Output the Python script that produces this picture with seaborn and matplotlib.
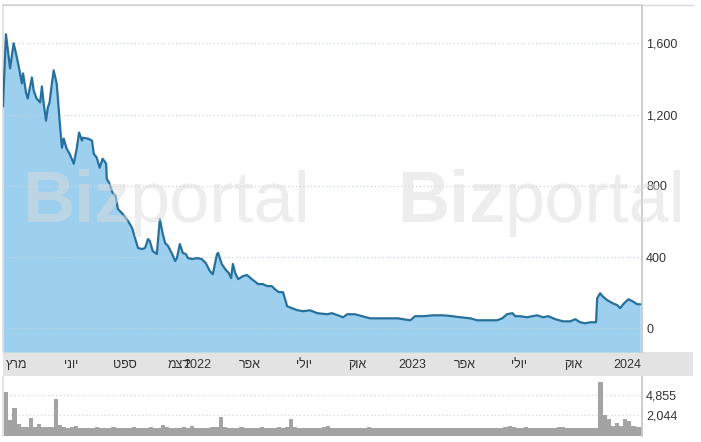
import pandas as pd
import numpy as np
import matplotlib
matplotlib.use('Agg')
import matplotlib.pyplot as plt
from matplotlib.patches import Rectangle
from matplotlib.lines import Line2D
import seaborn as sns

# price series
price_dates = ['2021-02-06', '2021-02-11', '2021-02-18', '2021-02-24', '2021-02-28', '2021-03-05',
               '2021-03-10', '2021-03-12', '2021-03-17', '2021-03-20', '2021-03-27', '2021-03-30',
               '2021-04-04', '2021-04-10', '2021-04-13', '2021-04-16', '2021-04-20', '2021-04-23',
               '2021-04-26', '2021-04-30', '2021-05-03', '2021-05-08', '2021-05-10', '2021-05-13',
               '2021-05-17', '2021-05-20', '2021-05-25', '2021-05-30', '2021-06-06', '2021-06-11',
               '2021-06-15', '2021-06-20', '2021-06-21', '2021-06-30', '2021-07-07', '2021-07-10',
               '2021-07-15', '2021-07-20', '2021-07-25', '2021-07-31', '2021-08-01', '2021-08-05',
               '2021-08-11', '2021-08-16', '2021-08-20', '2021-08-28', '2021-09-06', '2021-09-13',
               '2021-09-18', '2021-09-23', '2021-09-30', '2021-10-05', '2021-10-10', '2021-10-13',
               '2021-10-18', '2021-10-25', '2021-10-30', '2021-11-04', '2021-11-08', '2021-11-13',
               '2021-11-20', '2021-11-25', '2021-11-28', '2021-12-03', '2021-12-08', '2021-12-13',
               '2021-12-17', '2021-12-24', '2022-01-01', '2022-01-09', '2022-01-16', '2022-01-23',
               '2022-01-28', '2022-02-04', '2022-02-06', '2022-02-12', '2022-02-18', '2022-02-24',
               '2022-02-28', '2022-03-03', '2022-03-07', '2022-03-12', '2022-03-20', '2022-03-27',
               '2022-04-04', '2022-04-15', '2022-04-23', '2022-04-30', '2022-05-08', '2022-05-13',
               '2022-05-20', '2022-05-27', '2022-05-30', '2022-06-03', '2022-06-11', '2022-06-21',
               '2022-06-30', '2022-07-12', '2022-07-24', '2022-08-10', '2022-08-18', '2022-08-23',
               '2022-09-06', '2022-09-13', '2022-09-26', '2022-10-08', '2022-10-22', '2022-11-13',
               '2022-12-08', '2022-12-17', '2022-12-29', '2023-01-06', '2023-01-20', '2023-02-06',
               '2023-02-23', '2023-03-10', '2023-03-24', '2023-04-10', '2023-04-21', '2023-05-25',
               '2023-06-03', '2023-06-11', '2023-06-20', '2023-06-25', '2023-07-03', '2023-07-15',
               '2023-08-01', '2023-08-11', '2023-08-20', '2023-09-01', '2023-09-14', '2023-09-26',
               '2023-10-05', '2023-10-13', '2023-10-22', '2023-10-30', '2023-11-09', '2023-11-11',
               '2023-11-16', '2023-11-20', '2023-11-28', '2023-12-07', '2023-12-15', '2023-12-20',
               '2023-12-25', '2024-01-03', '2024-01-10', '2024-01-18', '2024-01-23']
price = [1245, 1651, 1459, 1600, 1544, 1465,
         1375, 1431, 1324, 1290, 1408, 1335,
         1290, 1268, 1358, 1262, 1166, 1239,
         1268, 1375, 1448, 1375, 1296, 1166,
         1014, 1065, 1008, 980, 924, 1008,
         1099, 1054, 1070, 1065, 1054, 980,
         958, 901, 952, 924, 839, 817,
         760, 744, 670, 642, 603, 563,
         507, 451, 445, 451, 501, 490,
         434, 417, 614, 530, 479, 462,
         417, 378, 394, 473, 423, 417,
         394, 389, 394, 389, 366, 321,
         304, 417, 423, 361, 332, 310,
         282, 361, 310, 276, 293, 299,
         276, 248, 248, 237, 237, 220,
         203, 203, 169, 124, 113, 101,
         96, 101, 85, 79, 85, 79,
         62, 79, 79, 68, 56, 56,
         56, 51, 45, 68, 68, 73,
         73, 68, 62, 56, 45, 45,
         56, 79, 85, 68, 68, 62,
         73, 62, 68, 51, 39, 39,
         51, 34, 28, 34, 34, 169,
         197, 180, 158, 141, 130, 113,
         135, 163, 152, 135, 135]

# weekly volume, starting week of 2021-02-08
volume_start = '2021-02-08'
volume = [5300, 1300, 3000, 800, 400, 350, 1600, 300, 750, 400,
          350, 300, 4300, 700, 300, 250, 300, 450, 250, 200,
          250, 200, 300, 250, 200, 250, 300, 200, 250, 200,
          250, 300, 200, 250, 200, 300, 250, 200, 650, 300,
          250, 200, 250, 300, 200, 450, 250, 200, 250, 200,
          300, 350, 1750, 400, 250, 200, 250, 300, 200, 250,
          200, 250, 300, 200, 250, 200, 300, 250, 350, 1450,
          350, 250, 200, 250, 200, 250, 200, 300, 450, 200,
          150, 200, 150, 200, 150, 200, 250, 200, 300, 150,
          200, 150, 200, 150, 200, 150, 200, 150, 200, 150,
          150, 200, 150, 200, 150, 200, 150, 200, 150, 200,
          150, 200, 150, 200, 150, 200, 150, 200, 150, 200,
          250, 300, 450, 400, 250, 200, 350, 200, 150, 200,
          150, 200, 150, 200, 300, 300, 200, 150, 200, 150,
          200, 150, 200, 200, 6700, 2000, 1500, 500, 900, 500,
          1500, 1200, 500, 300, 300]

tick_dates = ['2021-03-01', '2021-06-01', '2021-09-01', '2021-12-01', '2022-01-01', '2022-04-01',
              '2022-07-01', '2022-10-01', '2023-01-01', '2023-04-01', '2023-07-01', '2023-10-01',
              '2024-01-01']
tick_labels = ['מרץ', 'יוני', 'ספט', 'דצמ', '2022', 'אפר', 'יולי', 'אוק', '2023', 'אפר', 'יולי', 'אוק', '2024']
price_ticks = [0, 400, 800, 1200, 1600]
volume_ticks = [2044, 4855]


def visual(s):
    # matplotlib has no bidi: flip Hebrew so it reads right-to-left
    if any('\u0590' <= c <= '\u05ff' for c in s):
        return s[::-1]
    return s


sns.set_theme(style='white')
plt.rcParams['font.family'] = ['Liberation Sans', 'DejaVu Sans']

W, H = 701, 442
fig = plt.figure(figsize=(W / 100, H / 100), dpi=100)

pdates = pd.to_datetime(price_dates)
vdates = pd.date_range(volume_start, periods=len(volume), freq='7D')
xmin, xmax = pd.Timestamp('2021-02-06'), pd.Timestamp('2024-01-26')

# gray band for the date labels
fig.add_artist(Rectangle((3 / W, (H - 376) / H), 690 / W, 24 / H, transform=fig.transFigure,
                         facecolor='#e3e3e3', edgecolor='none', zorder=0))
fig.add_artist(Line2D([3 / W, 693 / W], [(H - 5) / H] * 2, transform=fig.transFigure,
                      color='#d6d6d6', lw=1))

ax = fig.add_axes([3 / W, (H - 352) / H, 639 / W, 347 / H])
ymin, ymax = -133, 1815
ax.fill_between(pdates, price, ymin, color='#9dcfee', lw=0, zorder=1)
for t in price_ticks:
    ax.axhline(t, color='#c5d3de', lw=0.9, ls=(0, (1, 2)), zorder=1.5)
sns.lineplot(x=pdates, y=price, ax=ax, color='#28709c', lw=1.6, zorder=3)

# watermark
for x0 in [22, 397]:
    fig.text(x0 / W, (H - 222) / H, 'Biz', fontsize=52, fontweight='bold', color='#dcdcdc',
             alpha=0.5, zorder=5)
    fig.text((x0 + 107) / W, (H - 222) / H, 'portal', fontsize=52, color='#dcdcdc',
             alpha=0.5, zorder=5)

ax.set_xlim(xmin, xmax)
ax.set_ylim(ymin, ymax)
ax.yaxis.tick_right()
ax.set_yticks(price_ticks)
ax.set_yticklabels([f'{t:,}' for t in price_ticks], fontsize=9, color='#333333')
ax.set_xticks(pd.to_datetime(tick_dates))
ax.set_xticklabels([visual(s) for s in tick_labels], fontsize=9, color='#333333')
ax.tick_params(axis='both', length=0)
ax.tick_params(axis='y', pad=3)
ax.tick_params(axis='x', pad=5)
ax.set_xlabel('')
ax.set_ylabel('')
ax.spines['bottom'].set_visible(False)
ax.spines['top'].set_color('#d6d6d6')
ax.spines['left'].set_color('#dedede')
ax.spines['right'].set_color('#c6c6c6')
ax.patch.set_alpha(0)

# volume panel
axv = fig.add_axes([3 / W, (H - 436) / H, 639 / W, 59 / H])
vmin, vmax = -907, 7384
for t in volume_ticks:
    axv.axhline(t, color='#cfd6dc', lw=0.9, ls=(0, (1, 2)), zorder=0.5)
axv.bar(vdates, np.array(volume) - vmin, bottom=vmin, width=7, align='edge',
        color='#a3a3a3', lw=0, zorder=1)
axv.set_xlim(xmin, xmax)
axv.set_ylim(vmin, vmax)
axv.yaxis.tick_right()
axv.set_yticks(volume_ticks)
axv.set_yticklabels([f'{t:,}' for t in volume_ticks], fontsize=9, color='#333333')
axv.set_xticks([])
axv.tick_params(axis='both', length=0)
axv.tick_params(axis='y', pad=3)
axv.spines['bottom'].set_visible(False)
axv.spines['top'].set_visible(False)
axv.spines['left'].set_color('#dedede')
axv.spines['right'].set_color('#c6c6c6')

fig.savefig('out.png', dpi=100)
